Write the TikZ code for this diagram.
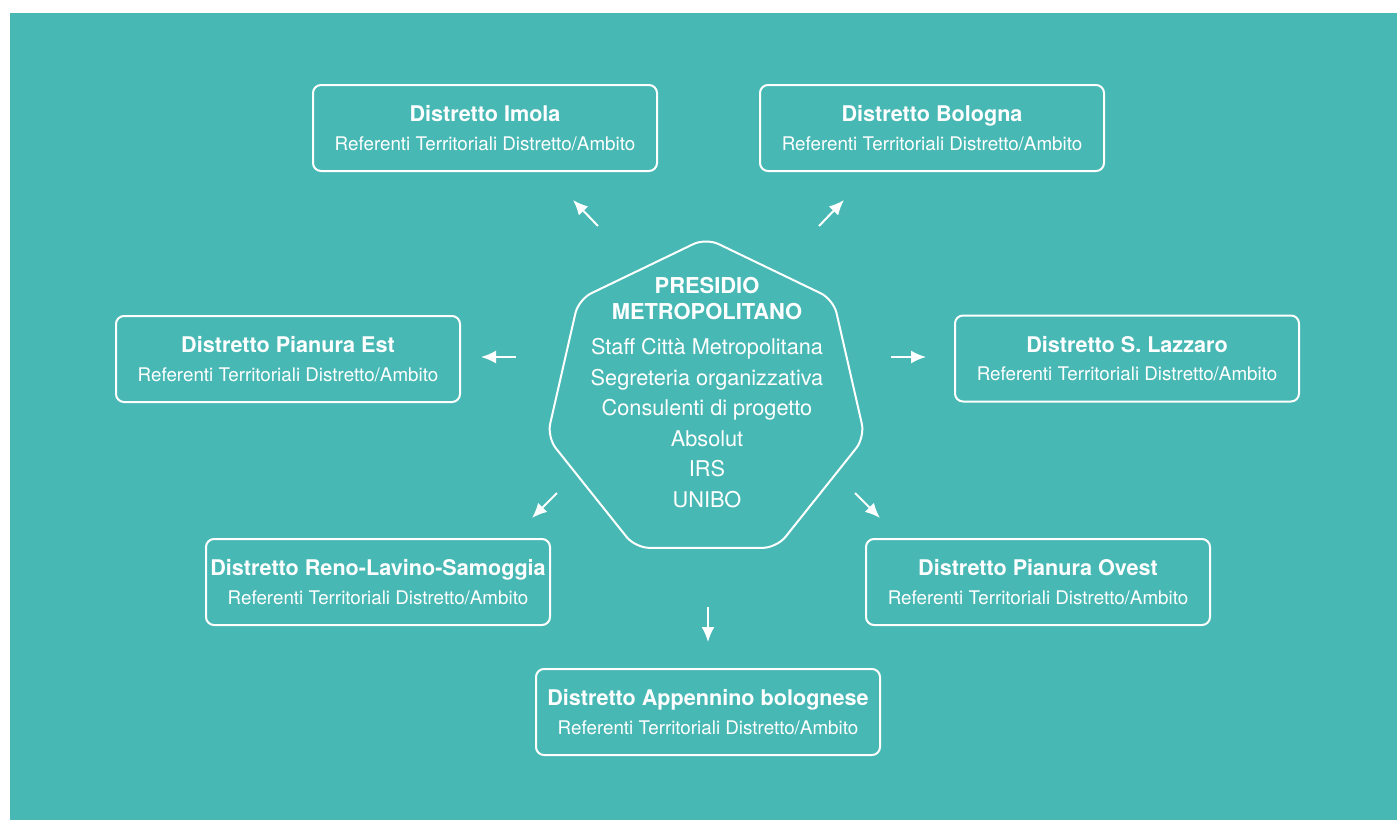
\documentclass[tikz,border=0pt]{standalone}
\usepackage{fontspec}
\setmainfont{TeX Gyre Heros}
\usetikzlibrary{arrows.meta, shapes.geometric}
\definecolor{presidioteal}{RGB}{71,184,180}
\tikzset{distretto/.style={draw=white, text=white, line width=2pt, rounded corners=8pt, minimum width=344pt, minimum height=86pt, inner sep=0pt, align=center, font=\fontsize{18.8}{28.5}\selectfont}}
\tikzset{heptagon/.style={draw=white, line width=2pt, regular polygon, regular polygon sides=7, minimum size=326pt, inner sep=0pt, rounded corners=14pt}}
\tikzset{presidio text/.style={text=white, align=center, font=\fontsize{21.7}{30.5}\selectfont}}
\tikzset{flow/.style={white, line width=2pt, -{Latex[length=15pt, width=13pt]}}}
\newcommand{\distrtitle}[1]{{\fontsize{21.6}{28.5}\selectfont\bfseries #1}}
\newcommand{\referenti}{Referenti Territoriali Distretto/Ambito}

\begin{document}
\begin{tikzpicture}[x=1pt, y=-1pt]
    \useasboundingbox (0,0) rectangle (1397,820);
    \fill[white] (0,0) rectangle (1397,820);
    \fill[presidioteal] (10,13) rectangle (1397,820);

    \node[heptagon] (presidio) at (706,401) {};
    \node[presidio text] (staff) at (707,392.5) {{\fontsize{21.9}{26}\selectfont\bfseries PRESIDIO}\\[-4.5pt]{\fontsize{21.9}{26}\selectfont\bfseries METROPOLITANO}\\[5pt]
        Staff Città Metropolitana\\Segreteria organizzativa\\Consulenti di progetto\\Absolut\\IRS\\UNIBO};

    \node[distretto] (imola) at (485,128) {\distrtitle{Distretto Imola}\\\referenti};
    \node[distretto] (bologna) at (932,128) {\distrtitle{Distretto Bologna}\\\referenti};
    \node[distretto] (pianuraest) at (288,359) {\distrtitle{Distretto Pianura Est}\\\referenti};
    \node[distretto] (lazzaro) at (1127,358.5) {\distrtitle{Distretto S. Lazzaro}\\\referenti};
    \node[distretto] (reno) at (378,582) {\distrtitle{Distretto Reno-Lavino-Samoggia}\\\referenti};
    \node[distretto] (pianuraovest) at (1038,582) {\distrtitle{Distretto Pianura Ovest}\\\referenti};
    \node[distretto] (appennino) at (708,712) {\distrtitle{Distretto Appennino bolognese}\\\referenti};

    \coordinate (imolaA) at (598,226);
    \coordinate (imolaB) at (573,200);
    \coordinate (bolognaA) at (819,226);
    \coordinate (bolognaB) at (844,200);
    \coordinate (estA) at (516,357);
    \coordinate (estB) at (481,357);
    \coordinate (lazzaroA) at (891,357);
    \coordinate (lazzaroB) at (926,357);
    \coordinate (renoA) at (557,493);
    \coordinate (renoB) at (532,518);
    \coordinate (ovestA) at (855,493);
    \coordinate (ovestB) at (880,518);
    \coordinate (appA) at (708,607);
    \coordinate (appB) at (708,642);

    \draw[flow] (imolaA) -- (imolaB);
    \draw[flow] (bolognaA) -- (bolognaB);
    \draw[flow] (estA) -- (estB);
    \draw[flow] (lazzaroA) -- (lazzaroB);
    \draw[flow] (renoA) -- (renoB);
    \draw[flow] (ovestA) -- (ovestB);
    \draw[flow] (appA) -- (appB);
\end{tikzpicture}
\end{document}
